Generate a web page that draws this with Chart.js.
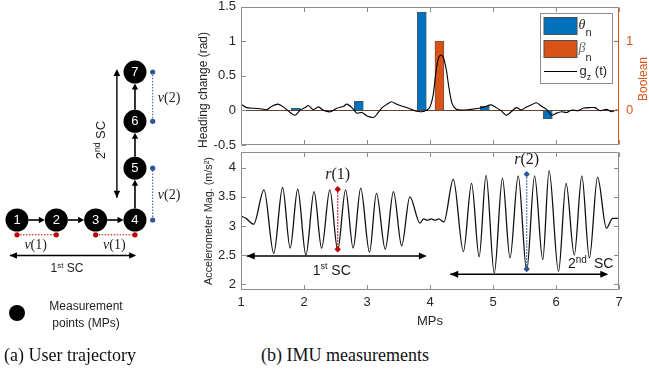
<!DOCTYPE html>
<html>
<head>
<meta charset="utf-8">
<title>User trajectory and IMU measurements</title>
<script src="https://cdn.jsdelivr.net/npm/chart.js@4.4.1/dist/chart.umd.min.js"></script>
<style>
  html, body { margin: 0; padding: 0; background: #fff; }
  body { position: relative; width: 649px; height: 376px; overflow: hidden; font-family: 'Liberation Sans', Arial, sans-serif; color: #262626; }
  .panel { position: absolute; }
  .mp-dot { position: absolute; left: 9px; top: 305px; width: 16px; height: 16px; border-radius: 50%; background: #000; }
  .mp-text { position: absolute; left: 44px; top: 298px; width: 84px; text-align: center; font-size: 12px; line-height: 17px; color: #222; }
  .caption { position: absolute; top: 345px; font-family: 'Liberation Serif', 'Times New Roman', serif; font-size: 18px; color: #111; white-space: pre; }
</style>
</head>
<body>
<div class="panel" style="left:0;top:0;width:190px;height:330px"><canvas id="trajChart"></canvas></div>
<div class="panel" style="left:190px;top:0;width:459px;height:150px"><canvas id="headingChart"></canvas></div>
<div class="panel" style="left:190px;top:146px;width:459px;height:184px"><canvas id="accChart"></canvas></div>
<div class="mp-dot"></div>
<div class="mp-text">Measurement<br>points (MPs)</div>
<div class="caption" style="left:4px">(a) User trajectory</div>
<div class="caption" style="left:261px">(b) IMU measurements</div>

<script>
Chart.defaults.font.family = "'Liberation Sans', Arial, sans-serif";
Chart.defaults.color = '#262626';
Chart.defaults.animation = false;
Chart.defaults.responsive = true;
Chart.defaults.maintainAspectRatio = false;
Chart.defaults.layout.autoPadding = false;
Chart.defaults.plugins.legend.display = false;
Chart.defaults.plugins.tooltip.enabled = false;

const SANS = "'Liberation Sans', Arial, sans-serif";
const SERIF = "'Liberation Serif', 'Times New Roman', serif";
const BLUE = '#0072BD', ORANGE = '#D95319', RED = '#C00000', NAVY = '#2F5597';

/* ---------- (a) trajectory ---------- */
const nodeLabels = ['1', '2', '3', '4', '5', '6', '7'];
const nodeX = [1, 2, 3, 4, 4, 4, 4];
const nodeY = [0, 0, 0, 0, 1.05, 2, 3];
const v1Spans = [[1, 2], [3, 4]];      // x ranges marked v(1)
const v2Spans = [[0, 1.05], [2, 3]];   // y ranges marked v(2)

/* ---------- (b) IMU ---------- */
const mpTicks = [1, 2, 3, 4, 5, 6, 7];

// heading change
const headingTicks = [-0.5, 0, 0.5, 1, 1.5];
const boolTicks = [0, 1];
const thetaX = [1.87, 2.87, 3.87, 4.87, 5.87];
const thetaY = [0.03, 0.13, 1.42, 0.06, -0.12];
const betaX = [4.15];
const betaY = [1];
const gzX = [1.00, 1.09, 1.20, 1.33, 1.41, 1.49, 1.59, 1.67, 1.78, 1.86,
             1.94, 2.02, 2.07, 2.15, 2.23, 2.31, 2.42, 2.52, 2.63, 2.68,
             2.76, 2.84, 2.92, 3.00, 3.11, 3.17, 3.24, 3.32, 3.39, 3.47,
             3.56, 3.66, 3.77, 3.87, 3.95, 4.00, 4.05, 4.09, 4.13, 4.17,
             4.21, 4.26, 4.30, 4.35, 4.41, 4.51, 4.65, 4.78, 4.86, 4.97,
             5.05, 5.13, 5.21, 5.29, 5.37, 5.45, 5.53, 5.61, 5.69, 5.77,
             5.85, 5.93, 6.01, 6.09, 6.17, 6.25, 6.35, 6.43, 6.54, 6.62,
             6.70, 6.80, 6.88, 6.96, 7.00];
const gzY = [0.09, 0.04, 0.03, 0.02, 0.01, 0.06, 0.09, 0.05, -0.03, -0.07,
             0.005, 0.04, 0.07, 0.01, 0.05, 0.00, -0.02, 0.03, 0.06, 0.09,
             0.04, -0.04, -0.03, -0.08, -0.10, -0.04, 0.04, 0.09, 0.125, 0.09,
             0.06, 0.03, -0.01, -0.02, 0.005, 0.05, 0.22, 0.52, 0.74, 0.80,
             0.77, 0.58, 0.33, 0.10, 0.02, 0.005, 0.015, 0.03, 0.05, 0.08,
             0.04, -0.005, -0.07, -0.02, 0.04, 0.005, 0.05, 0.08, 0.11, 0.06,
             0.015, -0.07, -0.04, -0.02, -0.03, 0.005, -0.005, 0.03, 0.04, 0.04,
             -0.005, 0.015, -0.02, 0.005, -0.01];

// accelerometer magnitude (peaks / troughs)
const accTicks = [2, 2.5, 3, 3.5, 4];
const accX = [1.00, 1.08, 1.20, 1.365, 1.52, 1.66, 1.78, 1.90, 2.03, 2.16,
              2.28, 2.41, 2.535, 2.66, 2.78, 2.90, 3.04, 3.15, 3.29, 3.42,
              3.55, 3.68, 3.84, 3.90, 3.96, 4.02, 4.08, 4.14, 4.22, 4.37,
              4.53, 4.66, 4.78, 4.89, 5.02, 5.15, 5.27, 5.40, 5.535, 5.66,
              5.79, 5.89, 6.04, 6.16, 6.29, 6.41, 6.53, 6.66, 6.80, 6.90, 7.00];
const accY = [3.17, 3.13, 3.03, 3.62, 2.53, 3.66, 2.62, 3.63, 2.50, 3.59,
              2.62, 3.62, 2.59, 3.62, 2.62, 3.65, 2.55, 3.56, 2.60, 3.59,
              2.66, 3.50, 3.05, 3.12, 3.10, 3.12, 3.10, 3.12, 3.07, 3.80,
              2.56, 3.73, 2.47, 3.87, 2.19, 3.82, 2.45, 3.86, 2.23, 3.86,
              2.42, 3.95, 2.22, 3.73, 2.50, 3.86, 2.45, 3.84, 2.96, 3.13, 3.13];
const r1X = 2.535, r1Y = [3.63, 2.60];
const r2X = 5.535, r2Y = [3.89, 2.26];
const sc1Range = [1.09, 3.95], sc1Level = 2.485;
const sc2Range = [4.32, 6.83], sc2Level = 2.17;

const xy = (xs, ys) => xs.map((x, i) => ({ x, y: ys[i] }));

/* ---------- drawing helpers ---------- */
function arrowHead(ctx, x, y, ang, len, half) {
  const c = Math.cos(ang), s = Math.sin(ang);
  ctx.beginPath();
  ctx.moveTo(x, y);
  ctx.lineTo(x - len * c + half * s, y - len * s - half * c);
  ctx.lineTo(x - len * c - half * s, y - len * s + half * c);
  ctx.closePath();
  ctx.fill();
}
function arrow(ctx, x0, y0, x1, y1, both, len, half, lw) {
  const ang = Math.atan2(y1 - y0, x1 - x0);
  ctx.lineWidth = lw;
  ctx.beginPath();
  ctx.moveTo(x0, y0);
  ctx.lineTo(x1 - len * 0.6 * Math.cos(ang), y1 - len * 0.6 * Math.sin(ang));
  ctx.stroke();
  arrowHead(ctx, x1, y1, ang, len, half);
  if (both) arrowHead(ctx, x0, y0, ang + Math.PI, len, half);
}
function drawRuns(ctx, runs, x, y, align) {
  let w = 0;
  runs.forEach(r => { ctx.font = r.font; r.w = ctx.measureText(r.t).width; w += r.w; });
  let cx = align === 'center' ? x - w / 2 : x;
  ctx.textAlign = 'left';
  runs.forEach(r => { ctx.font = r.font; ctx.fillText(r.t, cx, y + (r.dy || 0)); cx += r.w; });
}
function rotText(ctx, runs, x, y) {
  ctx.save();
  ctx.translate(x, y);
  ctx.rotate(-Math.PI / 2);
  drawRuns(ctx, runs, 0, 0, 'center');
  ctx.restore();
}
const crisp = v => Math.round(v) + 0.5;
// keep the plot box where it is: no extra room for half tick labels
const fixY = w => s => { s.width = w; s.paddingTop = 0; s.paddingBottom = 0; };

/* box with inward ticks, MATLAB style */
const framePlugin = {
  id: 'frame',
  afterDatasetsDraw(chart, args, o) {
    const { ctx, chartArea: a, scales } = chart;
    const L = 4.5;
    const l = crisp(a.left), r = crisp(a.right - 1), t = crisp(a.top), b = crisp(a.bottom - 1);
    ctx.save();
    ctx.lineWidth = 1;
    ctx.strokeStyle = o.color;
    ctx.beginPath();
    ctx.moveTo(r, t); ctx.lineTo(l, t); ctx.lineTo(l, b); ctx.lineTo(r, b);
    o.xTicks.forEach(v => {
      const x = crisp(scales.x.getPixelForValue(v));
      ctx.moveTo(x, t); ctx.lineTo(x, t + L);
      ctx.moveTo(x, b); ctx.lineTo(x, b - L);
    });
    o.leftTicks.forEach(v => {
      const y = crisp(scales.y.getPixelForValue(v));
      ctx.moveTo(l, y); ctx.lineTo(l + L, y);
    });
    ctx.stroke();
    ctx.strokeStyle = o.rightColor;
    ctx.beginPath();
    ctx.moveTo(r, t); ctx.lineTo(r, b);
    o.rightTicks.forEach(v => {
      const y = crisp(scales[o.rightAxis].getPixelForValue(v));
      ctx.moveTo(r, y); ctx.lineTo(r - L, y);
    });
    ctx.stroke();
    ctx.restore();
  }
};

/* ---------- (a) trajectory diagram ---------- */
const V1_ROW = -0.30, V2_COL = 4.45, R = 11.5;
const trajPlugin = {
  id: 'traj',
  afterDatasetsDraw(chart) {
    const { ctx, scales: { x, y } } = chart;
    const px = v => x.getPixelForValue(v), py = v => y.getPixelForValue(v);
    ctx.save();
    ctx.fillStyle = '#000';
    ctx.strokeStyle = '#000';
    // links between consecutive MPs
    for (let i = 0; i < nodeX.length - 1; i++) {
      const x0 = px(nodeX[i]), y0 = py(nodeY[i]), x1 = px(nodeX[i + 1]), y1 = py(nodeY[i + 1]);
      const ang = Math.atan2(y1 - y0, x1 - x0), c = Math.cos(ang), s = Math.sin(ang);
      arrow(ctx, x0 + R * c, y0 + R * s, x1 - R * c, y1 - R * s, false, 6, 3.2, 1.6);
    }
    // step-count spans
    arrow(ctx, px(0.82), py(-0.72), px(4.03), py(-0.72), true, 7, 3.3, 1.4);
    arrow(ctx, px(3.54), py(0.45), px(3.54), py(3.06), true, 7, 3.3, 1.4);
    // MP numbers
    ctx.fillStyle = '#fff';
    ctx.textBaseline = 'middle';
    nodeLabels.forEach((t, i) => drawRuns(ctx, [{ t, font: '13px ' + SANS }], px(nodeX[i]), py(nodeY[i]) + 0.5, 'center'));
    // labels
    ctx.fillStyle = '#222';
    v1Spans.forEach(([a, b]) => drawRuns(ctx, [
      { t: 'v', font: 'italic 14px ' + SERIF }, { t: '(1)', font: '14px ' + SERIF }
    ], px((a + b) / 2) - 1, py(-0.51), 'center'));
    v2Spans.forEach(([a, b]) => drawRuns(ctx, [
      { t: 'v', font: 'italic 14px ' + SERIF }, { t: '(2)', font: '14px ' + SERIF }
    ], px(4.58), py((a + b) / 2 - 0.03), 'left'));
    drawRuns(ctx, [
      { t: '1', font: '12px ' + SANS }, { t: 'st', font: '8px ' + SANS, dy: -3.5 }, { t: ' SC', font: '12px ' + SANS }
    ], px(2.27), py(-0.99), 'center');
    rotText(ctx, [
      { t: '2', font: '13px ' + SANS }, { t: 'nd', font: '8.5px ' + SANS, dy: -3.5 }, { t: ' SC', font: '13px ' + SANS }
    ], px(3.14), py(1.62));
    ctx.restore();
  }
};

new Chart(document.getElementById('trajChart'), {
  type: 'scatter',
  data: {
    datasets: [
      { data: xy(nodeX, nodeY), pointRadius: R, pointBackgroundColor: '#000', pointBorderWidth: 0, showLine: false },
      ...v1Spans.map(([a, b]) => ({
        data: [{ x: a, y: V1_ROW }, { x: b, y: V1_ROW }], showLine: true,
        borderColor: RED, borderDash: [1.5, 1.5], borderWidth: 1,
        pointRadius: 2.6, pointBackgroundColor: RED, pointBorderWidth: 0
      })),
      ...v2Spans.map(([a, b]) => ({
        data: [{ x: V2_COL, y: a }, { x: V2_COL, y: b }], showLine: true,
        borderColor: NAVY, borderDash: [1.5, 1.5], borderWidth: 1,
        pointRadius: 2.6, pointBackgroundColor: NAVY, pointBorderWidth: 0
      }))
    ]
  },
  options: {
    layout: { padding: 0, autoPadding: false },
    scales: {
      x: { type: 'linear', display: false, min: 0.568, max: 5.399 },
      y: { type: 'linear', display: false, min: -2.23, max: 4.46 }
    }
  },
  plugins: [trajPlugin]
});

/* ---------- (b) top: heading change ---------- */
const headingPlugin = {
  id: 'headingDeco',
  afterDraw(chart) {
    const { ctx, chartArea: a } = chart;
    ctx.save();
    ctx.textBaseline = 'middle';
    ctx.fillStyle = '#262626';
    rotText(ctx, [{ t: 'Heading change (rad)', font: '12px ' + SANS }], a.left - 37, a.top + 83.5);
    ctx.fillStyle = ORANGE;
    rotText(ctx, [{ t: 'Boolean', font: '12px ' + SANS }], a.right + 25, a.top + 72.5);
    // legend
    const bx = crisp(a.right - 79), by = crisp(a.top + 6.5), bw = 72, bh = 70;
    ctx.fillStyle = '#fff';
    ctx.fillRect(bx, by, bw, bh);
    ctx.strokeStyle = '#8c8c8c';
    ctx.lineWidth = 1;
    ctx.strokeRect(bx, by, bw, bh);
    ctx.strokeStyle = '#505050';
    ctx.fillStyle = BLUE;
    ctx.fillRect(bx + 3.5, by + 4, 33, 17);
    ctx.strokeRect(bx + 3.5, by + 4, 33, 17);
    ctx.fillStyle = ORANGE;
    ctx.fillRect(bx + 3.5, by + 27, 33, 17);
    ctx.strokeRect(bx + 3.5, by + 27, 33, 17);
    ctx.strokeStyle = '#000';
    ctx.beginPath();
    ctx.moveTo(bx + 3.5, by + 58); ctx.lineTo(bx + 36.5, by + 58);
    ctx.stroke();
    ctx.textBaseline = 'alphabetic';
    ctx.fillStyle = '#262626';
    drawRuns(ctx, [{ t: '\u03B8', font: 'italic 14px ' + SERIF }, { t: 'n', font: '11px ' + SANS, dy: 7 }], bx + 38, by + 15.5, 'left');
    ctx.fillStyle = '#6a6a6a';
    drawRuns(ctx, [{ t: '\u03B2', font: 'italic 14px ' + SERIF }], bx + 38, by + 38.5, 'left');
    ctx.fillStyle = '#262626';
    drawRuns(ctx, [{ t: 'n', font: '11px ' + SANS }], bx + 45, by + 47, 'left');
    drawRuns(ctx, [{ t: 'g', font: '13px ' + SANS }, { t: 'z', font: '9px ' + SANS, dy: 5 }, { t: ' (t)', font: '13px ' + SANS }], bx + 39, by + 61, 'left');
    ctx.restore();
  }
};

new Chart(document.getElementById('headingChart'), {
  type: 'bar',
  data: {
    datasets: [
      { type: 'line', data: xy(gzX, gzY), borderColor: '#000', borderWidth: 1.1, pointRadius: 0, tension: 0.25, yAxisID: 'y', order: 0 },
      { data: xy(thetaX, thetaY), backgroundColor: BLUE, borderColor: '#505050', borderWidth: 0.8, barThickness: 9, grouped: false, yAxisID: 'y', order: 1 },
      { data: xy(betaX, betaY), backgroundColor: ORANGE, borderColor: '#505050', borderWidth: 0.8, barThickness: 9, grouped: false, yAxisID: 'y2', order: 1 }
    ]
  },
  options: {
    layout: { padding: { top: 6.5, bottom: 5 } },
    scales: {
      x: { type: 'linear', min: 1, max: 7, display: false, offset: false },
      y: {
        position: 'left', min: -0.5, max: 1.5,
        afterBuildTicks: s => { s.ticks = headingTicks.map(v => ({ value: v })); },
        afterFit: fixY(51),
        border: { display: false },
        grid: { drawTicks: false, lineWidth: 1, color: c => (c.tick && c.tick.value === 0 ? '#5e4535' : 'rgba(0,0,0,0)') },
        ticks: { padding: 5, font: { size: 13, lineHeight: 1 }, callback: v => String(v) }
      },
      y2: {
        position: 'right', min: -0.5, max: 1.5,
        afterBuildTicks: s => { s.ticks = boolTicks.map(v => ({ value: v })); },
        afterFit: fixY(30),
        border: { display: false },
        grid: { display: false, drawTicks: false },
        ticks: { padding: 7, color: ORANGE, font: { size: 13, lineHeight: 1 }, callback: v => String(v) }
      }
    },
    plugins: {
      frame: { color: '#8c8c8c', rightColor: ORANGE, xTicks: mpTicks, leftTicks: headingTicks, rightTicks: boolTicks, rightAxis: 'y2' }
    }
  },
  plugins: [framePlugin, headingPlugin]
});

/* ---------- (b) bottom: accelerometer ---------- */
const accPlugin = {
  id: 'accDeco',
  afterDatasetsDraw(chart) {
    const { ctx, scales: { x, y } } = chart;
    const px = v => x.getPixelForValue(v), py = v => y.getPixelForValue(v);
    ctx.save();
    ctx.fillStyle = '#000';
    ctx.strokeStyle = '#000';
    arrow(ctx, px(sc1Range[0]), py(sc1Level), px(sc1Range[1]), py(sc1Level), true, 8, 3.5, 1.6);
    arrow(ctx, px(sc2Range[0]), py(sc2Level), px(sc2Range[1]), py(sc2Level), true, 8, 3.5, 1.6);
    ctx.textBaseline = 'middle';
    ctx.fillStyle = '#1a1a1a';
    drawRuns(ctx, [
      { t: '1', font: '14px ' + SANS }, { t: 'st', font: '9px ' + SANS, dy: -4 }, { t: ' SC', font: '14px ' + SANS }
    ], px(2.44), py(2.23), 'center');
    drawRuns(ctx, [
      { t: '2', font: '14px ' + SANS }, { t: 'nd', font: '10px ' + SANS, dy: -4 }, { t: '\u2002SC', font: '14px ' + SANS }
    ], px(6.55), py(2.35), 'center');
    drawRuns(ctx, [{ t: 'r', font: 'italic 16px ' + SERIF }, { t: '(1)', font: '16px ' + SERIF }], px(r1X), py(3.875), 'center');
    drawRuns(ctx, [{ t: 'r', font: 'italic 16px ' + SERIF }, { t: '(2)', font: '16px ' + SERIF }], px(r2X), py(4.13), 'center');
    ctx.restore();
  }
};

new Chart(document.getElementById('accChart'), {
  type: 'line',
  data: {
    datasets: [
      { data: xy(accX, accY), borderColor: '#111', borderWidth: 1.3, pointRadius: 0, cubicInterpolationMode: 'monotone', order: 1 },
      { data: [{ x: r1X, y: r1Y[0] }, { x: r1X, y: r1Y[1] }], borderColor: RED, backgroundColor: RED, borderDash: [1.5, 1.5], borderWidth: 1.2, pointStyle: 'rectRot', pointRadius: 3.2, pointBorderWidth: 0, order: 0 },
      { data: [{ x: r2X, y: r2Y[0] }, { x: r2X, y: r2Y[1] }], borderColor: NAVY, backgroundColor: NAVY, borderDash: [1.5, 1.5], borderWidth: 1.2, pointStyle: 'rectRot', pointRadius: 3.2, pointBorderWidth: 0, order: 0 }
    ]
  },
  options: {
    layout: { padding: { top: 6, right: 30 } },
    scales: {
      x: {
        type: 'linear', min: 1, max: 7,
        afterBuildTicks: s => { s.ticks = mpTicks.map(v => ({ value: v })); },
        afterFit: s => { s.height = 40; },
        grid: { display: false, drawTicks: false }, border: { display: false },
        ticks: { padding: 6, maxRotation: 0, font: { size: 13, lineHeight: 1 }, callback: v => String(v) },
        title: { display: true, text: 'MPs', font: { size: 13, lineHeight: 1 }, padding: { top: 0, bottom: 2 } }
      },
      y: {
        min: 1.9, max: 4.27,
        afterBuildTicks: s => { s.ticks = accTicks.map(v => ({ value: v })); },
        afterFit: fixY(51),
        grid: { display: false, drawTicks: false }, border: { display: false },
        ticks: { padding: 5, font: { size: 13, lineHeight: 1 }, callback: v => String(v) },
        title: { display: true, text: 'Accelerometer Mag. (m/s\u00B2)', font: { size: 10.8, lineHeight: 1 }, padding: { top: 13.6, bottom: 0 } }
      }
    },
    plugins: {
      frame: { color: '#8c8c8c', rightColor: '#8c8c8c', xTicks: mpTicks, leftTicks: accTicks, rightTicks: accTicks, rightAxis: 'y' }
    }
  },
  plugins: [framePlugin, accPlugin]
});
</script>
</body>
</html>
